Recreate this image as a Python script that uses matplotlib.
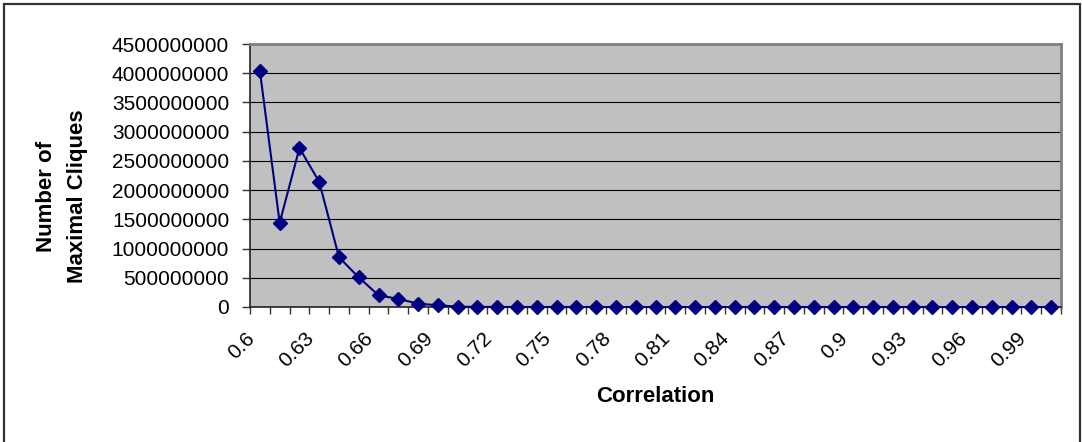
import matplotlib
matplotlib.use("Agg")
import matplotlib.pyplot as plt
from matplotlib.patches import Rectangle
from matplotlib.transforms import ScaledTranslation
from matplotlib.ticker import FixedLocator, NullFormatter

plt.rcParams['font.family'] = ['Liberation Sans', 'DejaVu Sans']

# Correlation thresholds 0.60 .. 1.00
correlation = ['0.6', '0.61', '0.62', '0.63', '0.64', '0.65', '0.66', '0.67', '0.68', '0.69',
               '0.7', '0.71', '0.72', '0.73', '0.74', '0.75', '0.76', '0.77', '0.78', '0.79',
               '0.8', '0.81', '0.82', '0.83', '0.84', '0.85', '0.86', '0.87', '0.88', '0.89',
               '0.9', '0.91', '0.92', '0.93', '0.94', '0.95', '0.96', '0.97', '0.98', '0.99', '1']

max_cliques = [4040000000, 1440000000, 2720000000, 2140000000, 850000000, 506000000,
               200000000, 138000000, 58000000, 29000000, 6000000, 2000000, 900000,
               400000, 200000, 90000, 40000, 20000, 9000, 4000, 2000, 900, 400, 200,
               100, 60, 30, 15, 8, 4, 2, 1, 1, 1, 1, 1, 1, 1, 1, 1, 1]

y_ticks = [0, 500000000, 1000000000, 1500000000, 2000000000, 2500000000,
           3000000000, 3500000000, 4000000000, 4500000000]

W, H = 1082, 442
fig = plt.figure(figsize=(W / 100, H / 100), dpi=100)
fig.patch.set_facecolor('white')

# outer chart frame (its lower edge runs past the bottom of the canvas)
fig.patches.append(Rectangle((4 / W, -10 / H), 1076 / W, 448 / H, transform=fig.transFigure,
                             fill=False, edgecolor='#333333', linewidth=1.6))

left, right, top, bottom = 250, 1061, 44, 307
ax = fig.add_axes([left / W, 1 - bottom / H, (right - left) / W, (bottom - top) / H])
ax.set_facecolor('#C0C0C0')

x = list(range(len(correlation)))
ax.plot(x, max_cliques, color='#000080', linewidth=1.5, marker='D', markersize=7.3,
        markerfacecolor='#000080', markeredgecolor='#000080', zorder=3, clip_on=False)

ax.set_xlim(-0.5, len(correlation) - 0.5)
ax.set_ylim(0, 4500000000)

# horizontal gridlines
ax.set_yticks(y_ticks)
ax.set_yticklabels([str(v) for v in y_ticks])
ax.yaxis.grid(True, color='black', linewidth=0.8)
ax.set_axisbelow(True)

# category boundaries carry the tick marks, every third category carries a label
ax.xaxis.set_major_locator(FixedLocator([i - 0.5 for i in range(len(correlation) + 1)]))
ax.xaxis.set_major_formatter(NullFormatter())
ax.tick_params(axis='x', which='major', direction='out', length=5, width=1, color='#333333')
ax.tick_params(axis='y', which='major', direction='out', length=6, width=1, color='#333333',
               labelsize=15, pad=9)

label_pos = list(range(0, len(correlation), 3))
for i in label_pos:
    off = ScaledTranslation(-15 / 100, -22 / 100, fig.dpi_scale_trans)
    ax.text(i, 0, correlation[i], rotation=45, rotation_mode='anchor', ha='right', va='top',
            fontsize=15, transform=ax.transData + off)

for side in ['top', 'right']:
    ax.spines[side].set_color('#808080')
    ax.spines[side].set_linewidth(2)
for side in ['left', 'bottom']:
    ax.spines[side].set_color('#222222')
    ax.spines[side].set_linewidth(1.2)

fig.text(655 / W, 1 - 396 / H, 'Correlation', ha='center', va='center',
         fontsize=16, fontweight='bold')
fig.text(62 / W, 1 - 196 / H, 'Number of\nMaximal Cliques', ha='center', va='center',
         rotation=90, fontsize=16, fontweight='bold', linespacing=1.65)

fig.savefig('out.png', dpi=100)
